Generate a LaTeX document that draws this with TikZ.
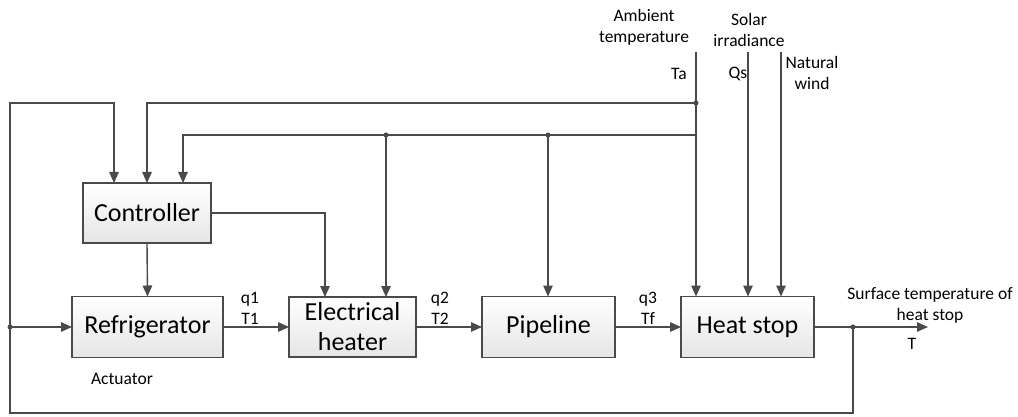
\documentclass[tikz,border=0pt]{standalone}
\usepackage{fontspec}
\setmainfont{Carlito}
\usetikzlibrary{arrows.meta,calc}
\definecolor{ln}{HTML}{4A4A4A}
\tikzset{
  blk/.style={draw=ln, line width=1.4pt, top color=white, bottom color=black!10,
    inner sep=0pt, outer sep=0pt, align=center, font=\fontsize{26}{31}\selectfont},
  wire/.style={draw=ln, line width=1.4pt},
  arr/.style={wire, -{Triangle[length=11pt,width=9.5pt]}},
  lbl/.style={font=\fontsize{17.5}{21}\selectfont, align=center, inner sep=0pt, text=black},
  dot/.style={circle, fill=ln, inner sep=0pt, minimum size=5pt}
}
\begin{document}
\begin{tikzpicture}[x=1pt,y=-1pt]
\useasboundingbox (0,0) rectangle (1018,417);
% blocks
\node[blk, minimum width=128pt, minimum height=60pt] (ctrl) at (147,213) {Controller};
\node[blk, minimum width=151pt, minimum height=61pt] (ref) at (147.5,327) {Refrigerator};
\node[blk, minimum width=127pt, minimum height=60pt] (heat) at (352.5,327) {Electrical\\[-1pt]heater};
\node[blk, minimum width=133pt, minimum height=61pt] (pipe) at (548.5,327) {Pipeline};
\node[blk, minimum width=133pt, minimum height=61pt] (hs) at (747.5,327) {Heat stop};
% coordinates
\coordinate (fbL) at (10,327);
\coordinate (fbR) at (853,327);
\coordinate (out) at (928,327);
\coordinate (fbLB) at (10,413);
\coordinate (fbRB) at (853,413);
\coordinate (fbLT) at (10,103);
\coordinate (fbC) at (114,103);
\coordinate (TaTop) at (696,52);
\coordinate (TaJ) at (696,103);
\coordinate (TaJ2) at (696,135);
\coordinate (QsTop) at (748,52);
\coordinate (NwTop) at (781,52);
\coordinate (j1) at (386,135);
\coordinate (j2) at (548,135);
\coordinate (c2) at (183,135);
\coordinate (c1) at (147,103);
\coordinate (hc) at (325,213);
% main chain
\draw[arr] (fbL) -- (ref.west);
\draw[arr] (ref.east) -- (heat.west);
\draw[arr] (heat.east) -- (pipe.west);
\draw[arr] (pipe.east) -- (hs.west);
\draw[arr] (hs.east) -- (out);
% feedback
\draw[arr] (fbR) -- (fbRB) -- (fbLB) -- (fbLT) -- (fbC) -- (fbC |- ctrl.north);
% ambient temperature
\draw[arr] (TaTop) -- (TaTop |- hs.north);
\draw[arr] (TaJ) -- (c1) -- (ctrl.north);
\draw[arr] (TaJ2) -- (c2) -- (c2 |- ctrl.north);
\draw[arr] (j1) -- (j1 |- heat.north);
\draw[arr] (j2) -- (j2 |- pipe.north);
\draw[arr] (QsTop) -- (QsTop |- hs.north);
\draw[arr] (NwTop) -- (NwTop |- hs.north);
% controller outputs
\draw[arr] (ctrl.east) -- (hc) -- (hc |- heat.north);
\draw[arr] (ctrl.south) -- (ref.north);
% dots
\node[dot] (d1) at (fbL) {};
\node[dot] (d2) at (fbR) {};
\node[dot] (d3) at (TaJ) {};
\node[dot] (d4) at (j1) {};
\node[dot] (d5) at (j2) {};
% labels
\node[lbl] (lq1) at (250,308) {q1\\T1};
\node[lbl] (lq2) at (440,308) {q2\\T2};
\node[lbl] (lq3) at (648,308) {q3\\Tf};
\node[lbl] (lact) at (122,379) {Actuator};
\node[lbl] (lamb) at (644,27) {Ambient\\temperature};
\node[lbl] (lsol) at (749,30) {Solar\\irradiance};
\node[lbl] (lnw) at (812,73) {Natural\\wind};
\node[lbl] (lta) at (679,74) {Ta};
\node[lbl] (lqs) at (738,74) {Qs};
\node[lbl] (lsurf) at (930,305) {Surface temperature of\\heat stop};
\node[lbl] (lT) at (912,344) {T};
\end{tikzpicture}
\end{document}
